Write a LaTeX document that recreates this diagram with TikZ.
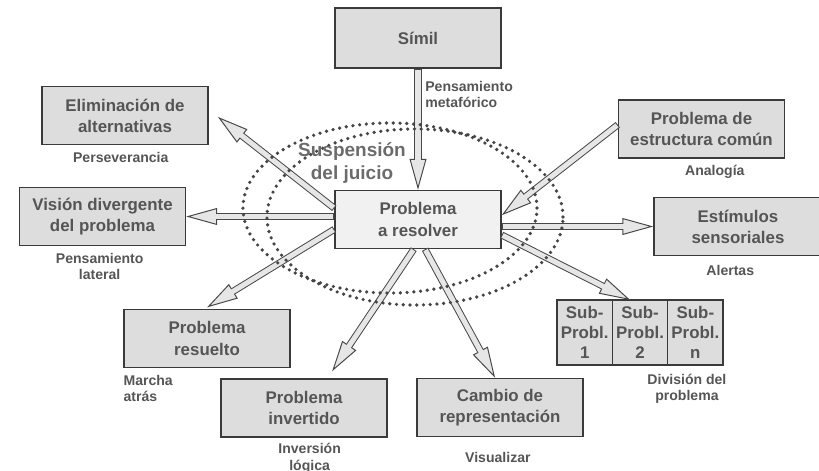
\documentclass[tikz,border=0pt]{standalone}
\usepackage{fontspec}
\setmainfont{Liberation Sans}
\usetikzlibrary{positioning}
\usetikzlibrary{arrows.meta}

\definecolor{boxfill}{HTML}{DDDDDD}
\definecolor{midfill}{HTML}{F1F1F1}
\definecolor{boxline}{HTML}{3A3A3A}
\definecolor{txtgray}{HTML}{555555}
\definecolor{arrline}{HTML}{484848}
\definecolor{arrfill}{HTML}{E6E6E6}
\definecolor{dotgray}{HTML}{454545}

\begin{document}
\begin{tikzpicture}[
        x=0.025cm, y=0.025cm,
        boxnode/.style = {
            draw=boxline,
            fill=boxfill,
            line width=1pt,
            minimum width=4.15cm,
            minimum height=1.45cm,
            inner sep=0pt,
            align=center,
            text=txtgray,
            font=\fontsize{12}{15}\selectfont\bfseries
        },
        subcell/.style = {
            boxnode,
            minimum width=1.383cm,
            minimum height=1.625cm,
            outer sep=0pt,
            font=\fontsize{12}{14}\selectfont\bfseries
        },
        sublabel/.style = {
            inner sep=0pt,
            align=center,
            text=txtgray,
            font=\fontsize{10}{11.5}\selectfont\bfseries
        },
        hollowarrow/.style = {
            draw=arrline,
            line width=5pt,
            -{Triangle[length=22pt, width=12pt, line width=0.7pt, fill=arrfill, color=arrline]},
            postaction={draw=arrfill, line width=3.6pt, -, shorten >=20pt, shorten <=0.7pt}
        },
        dotring/.style = {
            draw=dotgray,
            line width=2.6pt,
            line cap=round,
            dash pattern=on 0pt off 4.8pt
        }
            ]
            \useasboundingbox (0,0) rectangle (819,-471);

            % boxes
            \node[boxnode, minimum height=1.5cm] (simil) at (418,-38) {Símil};
            \node[boxnode] (elim) at (125,-115.5) {Eliminación de\\alternativas};
            \node[boxnode] (vision) at (102.5,-216.5) {Visión divergente\\del problema};
            \node[boxnode] (estr) at (701.5,-129) {Problema de\\estructura común};
            \node[boxnode, minimum width=4.2cm] (estim) at (738,-226.5) {Estímulos\\sensoriales};
            \node[boxnode, fill=midfill] (prob) at (418,-219.5) {Problema\\a resolver};
            \node[boxnode] (resuelto) at (207,-338.5) {Problema\\resuelto};
            \node[boxnode] (invert) at (304,-408) {Problema\\invertido};
            \node[boxnode] (cambio) at (500,-407.5) {Cambio de\\representación};

            \node[subcell] (sub1) at (584.7,-332.5) {Sub-\\Probl.\\1};
            \node[subcell, right=0pt of sub1] (sub2) {Sub-\\Probl.\\2};
            \node[subcell, right=0pt of sub2] (subn) {Sub-\\Probl.\\n};

            % labels under the boxes
            \node[sublabel, align=left, below right=8.5pt and 5pt of simil.south] (metaf) {Pensamiento\\metafórico};
            \node[sublabel, below=5pt of elim, xshift=-3pt] (perse) {Perseverancia};
            \node[sublabel, below=4.5pt of vision, xshift=-2pt] (lateral) {Pensamiento\\lateral};
            \node[sublabel, below=4.5pt of estr, xshift=9.5pt] (analog) {Analogía};
            \node[sublabel, below=6pt of estim, xshift=-5.5pt] (alert) {Alertas};
            \node[sublabel, align=left, below right=4.5pt and 0pt of resuelto.south west] (marcha) {Marcha\\atrás};
            \node[sublabel, below=4pt of invert, xshift=4pt] (invlog) {Inversión\\lógica};
            \node[sublabel, below=10.5pt of cambio, xshift=-1.5pt] (visual) {Visualizar};
            \node[sublabel, below=6pt of subn, xshift=-6pt] (divis) {División del\\problema};

            % arrows
            \draw[hollowarrow] (simil.south) -- (prob.north);
            \draw[hollowarrow] ([yshift=8pt]prob.west) -- ([xshift=6.5pt,yshift=-1pt]elim.east);
            \draw[hollowarrow] (prob.west |- vision.east) -- (vision.east);
            \draw[hollowarrow] ([yshift=-7pt]prob.west) -- ([yshift=1pt]resuelto.north);
            \draw[hollowarrow] ([xshift=-3pt]prob.south) -- ([xshift=20pt,yshift=5pt]invert.north);
            \draw[hollowarrow] ([xshift=5pt]prob.south) -- ([xshift=-3.5pt]cambio.north);
            \draw[hollowarrow] ([yshift=-11pt]prob.east) -- ([xshift=-7pt]sub2.north);
            \draw[hollowarrow] (prob.east |- estim.west) -- (estim.west);
            \draw[hollowarrow] ([yshift=3pt]estr.west) -- ([yshift=3pt]prob.east);

            % suspension del juicio
            \draw[dotring] (390,-208) ellipse [x radius=3.675cm, y radius=2.125cm];
            \draw[dotring] (415,-217) ellipse [x radius=3.7cm, y radius=2.2cm];
            \node[align=center, inner sep=0pt, text=black!58, font=\fontsize{13.5}{16.5}\selectfont\bfseries] (susp) at (352,-163) {Suspensión\\del juicio};

        \end{tikzpicture}
\end{document}
